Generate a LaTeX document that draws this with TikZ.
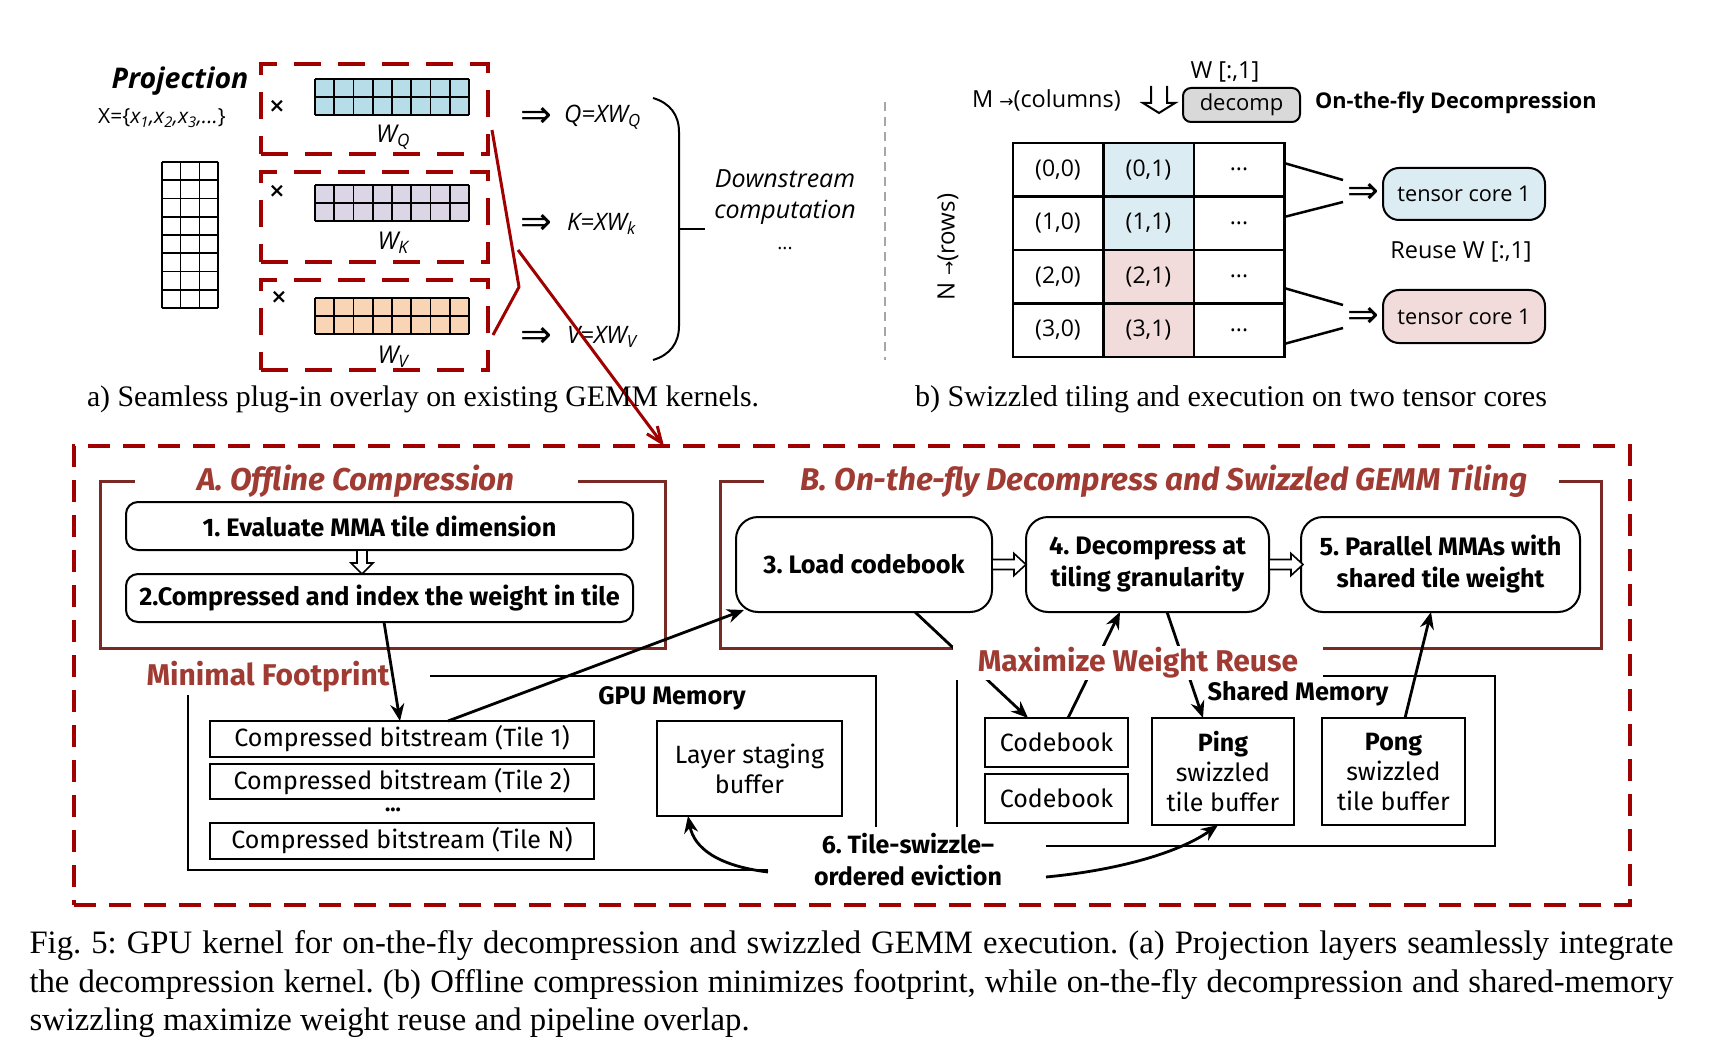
\documentclass[tikz,border=0pt]{standalone}
\usepackage{fontspec}
\setmainfont{Liberation Serif}
\newfontfamily\apt{Open Sans}
\newfontfamily\bah{Fira Sans}
\newfontfamily\dvs{DejaVu Sans}
\usetikzlibrary{arrows.meta}
\newcommand\myfs[2]{\fontsize{#1}{#2}\selectfont}
\definecolor{qblue}{HTML}{B7DEE8}
\definecolor{kpurp}{HTML}{DCD5E6}
\definecolor{vpeach}{HTML}{F9D5B6}
\definecolor{cblue}{HTML}{DBECF3}
\definecolor{cpink}{HTML}{F1DCDB}
\definecolor{dgray}{HTML}{D9D9D9}
\definecolor{dred}{HTML}{A00000}
\definecolor{fred}{HTML}{7A2A25}
\definecolor{tred}{HTML}{A03B33}
\tikzset{
  hright/.pic={\draw[line width=1.6pt, fill=white, line join=miter] (0,-5) -- (22,-5) -- (22,-11) -- (34,0) -- (22,11) -- (22,5) -- (0,5) -- cycle;},
  hdown/.pic={\draw[line width=1.6pt, fill=white, line join=miter] (-5,0) -- (-5,13) -- (-11,13) -- (0,24) -- (11,13) -- (5,13) -- (5,0) -- cycle;},
  ddown/.pic={\draw[line width=2pt, line join=miter] (-8,-13) -- (-8,4) -- (-16,4) -- (0,14) -- (16,4) -- (8,4) -- (8,-13);}
}
\begin{document}
\frenchspacing
\begin{tikzpicture}[x=1pt,y=-1pt,
  every node/.style={inner sep=0pt, outer sep=0pt},
  apt/.style={font=\apt\myfs{23.5}{28}},
  reddash/.style={draw=dred, line width=3.5pt, dash pattern=on 27pt off 17pt},
  bigdash/.style={draw=dred, line width=3.5pt, dash pattern=on 22pt off 13pt},
  frm/.style={draw=fred, line width=3pt},
  thinln/.style={line width=1.6pt},
  cell/.style={draw, line width=2.5pt, minimum width=90.5pt, minimum height=53.5pt, font=\apt\myfs{23}{26}},
  stepbx/.style={draw, line width=2pt, rounded corners=12pt, align=center, font=\bah\bfseries\myfs{25.3}{32}},
  stepbxb/.style={draw, line width=2pt, rounded corners=22pt, align=center, font=\bah\bfseries\myfs{25.3}{32}},
  membox/.style={draw, line width=2pt, align=center, font=\bah\myfs{25}{30}},
  arr/.style={line width=2.8pt, -{Stealth[length=17pt,width=14pt]}},
  ttl/.style={font=\bah\bfseries\itshape\myfs{31.5}{34}, text=tred},
  redlbl/.style={font=\bah\bfseries\myfs{30}{32}, text=tred},
  blbl/.style={font=\bah\bfseries\myfs{25.3}{28}},
  dbl/.style={font=\dvs\myfs{38}{38}}
]
\path[fill=white] (0,0) rectangle (1712,1040);
\useasboundingbox (0,0) rectangle (1712,1040);

% ---------------- (a) ----------------
\node[font=\apt\bfseries\itshape\myfs{28.5}{32}] (proj) at (180,81) {Projection};
\node[font=\apt\myfs{21}{24}] (xset) at (162,118) {X=\{\textit{x\textsubscript{1},x\textsubscript{2},x\textsubscript{3},...}\}};
\foreach \i in {0,...,3} \draw[thinln] ({162+\i*56/3},162) -- ({162+\i*56/3},308);
\foreach \j in {0,...,8} \draw[thinln] (162,{162+\j*146/8}) -- (218,{162+\j*146/8});

\node[reddash, minimum width=227pt, minimum height=90pt] (bq) at (374.5,109) {};
\node[reddash, minimum width=227pt, minimum height=90pt] (bk) at (374.5,217) {};
\node[reddash, minimum width=227pt, minimum height=90pt] (bv) at (374.5,325) {};

\foreach \yy/\cc in {79/qblue,185/kpurp,298/vpeach}{
  \fill[\cc] (315,\yy) rectangle (469,{\yy+36});
  \foreach \i in {0,...,8} \draw[thinln] ({315+\i*154/8},\yy) -- ({315+\i*154/8},{\yy+36});
  \foreach \j in {0,1,2} \draw[thinln] (315,{\yy+\j*18}) -- (469,{\yy+\j*18});
}
\node[font=\dvs\bfseries\myfs{20}{20}] (xq) at (277,106) {×};
\node[font=\dvs\bfseries\myfs{20}{20}] (xk) at (277,191) {×};
\node[font=\dvs\bfseries\myfs{20}{20}] (xv) at (279,297) {×};
\node[font=\apt\itshape\myfs{24.5}{28}] (wq) at (393,137) {W\textsubscript{Q}};
\node[font=\apt\itshape\myfs{24.5}{28}] (wk) at (393,243) {W\textsubscript{K}};
\node[font=\apt\itshape\myfs{24.5}{28}] (wv) at (393,357) {W\textsubscript{V}};

\node[dbl] (iq) at (536,117) {⇒};
\node[dbl] (ik) at (536,224) {⇒};
\node[dbl] (iv) at (536,337) {⇒};
\node[font=\apt\itshape\myfs{24}{28}, anchor=west] (fq) at (564,117) {Q=XW\textsubscript{Q}};
\node[font=\apt\itshape\myfs{24}{28}, anchor=west] (fk) at (567,224) {K=XW\textsubscript{k}};
\node[font=\apt\itshape\myfs{24}{28}, anchor=west] (fv) at (567,337) {V=XW\textsubscript{V}};

\draw[line width=2pt] (653,98) .. controls (670,103) and (679,115) .. (679,132) -- (679,326) .. controls (679,343) and (670,355) .. (653,360);
\draw[line width=2pt] (679,229) -- (705,229);
\node[font=\apt\itshape\myfs{25}{31}, align=center] (ds) at (785,197.5) {Downstream\\computation};
\node[font=\apt\myfs{19}{20}] (dsd) at (785,249) {...};

\draw[gray!70, line width=1.5pt, dash pattern=on 9pt off 6pt] (885,102) -- (885,360);

\coordinate (z1) at (492,130);
\coordinate (z2) at (519,287);
\coordinate (z3) at (493,335);
\coordinate (zs) at (518,250);
\coordinate (zt) at (664,446);
\draw[dred, line width=3pt, line join=round] (z1) -- (z2) -- (z3);
\draw[dred, line width=3pt, -{Straight Barb[length=16pt,width=13pt]}] (zs) -- (zt);

% ---------------- (b) ----------------
\node[apt, anchor=west] (mcol) at (972,100) {M {\dvs\myfs{17}{17}→}(columns)};
\coordinate (dd) at (1159,99);
\pic at (dd) {ddown};
\node[apt] (w1) at (1225,72) {W [:,1]};
\node[draw, line width=2pt, fill=dgray, rounded corners=8pt, minimum width=117pt, minimum height=34pt, font=\apt\myfs{22}{26}] (dec) at (1241.5,105) {decomp};
\node[font=\apt\bfseries\myfs{21.7}{26}, anchor=west] (otf) at (1315,103) {On-the-fly Decompression};

\foreach \r/\yy/\fc in {0/169.75/cblue,1/223.25/cblue,2/276.75/cpink,3/330.25/cpink}{
  \node[cell] (c\r0) at (1058,\yy) {(\r,0)};
  \node[cell, fill=\fc] (c\r1) at (1148.5,\yy) {(\r,1)};
  \node[cell] (c\r2) at (1239,\yy) {...};
}
\node[font=\apt\myfs{24}{28}, rotate=90] (nrow) at (948,247) {N {\dvs\myfs{17}{17}→}(rows)};

\coordinate (la1) at (1284,163); \coordinate (la2) at (1343,180);
\coordinate (lb1) at (1284,217); \coordinate (lb2) at (1343,202);
\coordinate (lc1) at (1284,288); \coordinate (lc2) at (1343,305);
\coordinate (ld1) at (1284,344); \coordinate (ld2) at (1343,328);
\draw[line width=2.5pt] (la1) -- (la2);
\draw[line width=2.5pt] (lb1) -- (lb2);
\draw[line width=2.5pt] (lc1) -- (lc2);
\draw[line width=2.5pt] (ld1) -- (ld2);
\node[dbl] (ia) at (1363,193) {⇒};
\node[dbl] (ib) at (1363,317) {⇒};
\node[draw, line width=2pt, rounded corners=16pt, fill=cblue, minimum width=162pt, minimum height=52pt, font=\apt\myfs{21.7}{26}] (tc1) at (1464,194) {tensor core 1};
\node[draw, line width=2pt, rounded corners=16pt, fill=cpink, minimum width=162pt, minimum height=53pt, font=\apt\myfs{21.7}{26}] (tc2) at (1464,316.5) {tensor core 1};
\node[apt] (reuse) at (1461,252) {Reuse W [:,1]};

% sub captions
\node[anchor=base west, font=\myfs{29.8}{34}] (capa) at (87,406) {a) Seamless plug-in overlay on existing GEMM kernels.};
\node[anchor=base west, font=\myfs{30.1}{34}] (capb) at (915,406) {b) Swizzled tiling and execution on two tensor cores};

% ---------------- bottom ----------------
\node[bigdash, minimum width=1556pt, minimum height=459pt] (big) at (852,675.5) {};

\draw[frm] (135,481) -- (100,481) -- (100,648) -- (665,648) -- (665,481) -- (578,481);
\node[ttl] (ta) at (356,481) {A. Offline Compression};
\node[stepbx, minimum width=507pt, minimum height=48pt] (b1) at (379.5,526) {1. Evaluate MMA tile dimension};
\node[stepbx, minimum width=507pt, minimum height=48pt] (b2) at (379.5,598) {2.Compressed and index the weight in tile};
\pic at ([xshift=-17.5pt]b1.south) {hdown};

\draw[frm] (953,648) -- (720,648) -- (720,481) -- (764,481);
\draw[frm] (1559,481) -- (1601,481) -- (1601,648) -- (1323,648);
\node[ttl] (tb) at (1164,481) {B. On-the-fly Decompress and Swizzled GEMM Tiling};
\node[stepbxb, minimum width=256pt, minimum height=95pt] (b3) at (864,564.5) {3. Load codebook};
\node[stepbxb, minimum width=243pt, minimum height=95pt] (b4) at (1147.5,564.5) {4. Decompress at\\tiling granularity};
\node[stepbxb, minimum width=279pt, minimum height=95pt] (b5) at (1440.5,564.5) {5. Parallel MMAs with\\shared tile weight};
\pic at (b3.east) {hright};
\pic at (b4.east) {hright};

% GPU memory
\draw[line width=2pt] (430,676) -- (876,676) -- (876,827);
\draw[line width=2pt] (768,870) -- (188,870) -- (188,695);
\node[redlbl] (mf) at (268,677) {Minimal Footprint};
\node[blbl] (gpum) at (672,698) {GPU Memory};
\node[membox, minimum width=384pt, minimum height=36pt] (t1) at (402,739) {Compressed bitstream (Tile 1)};
\node[membox, minimum width=384pt, minimum height=35pt] (t2) at (402,781.5) {Compressed bitstream (Tile 2)};
\node[font=\bah\bfseries\myfs{22}{22}] (tdots) at (393,810) {...};
\node[membox, minimum width=384pt, minimum height=36pt] (tn) at (402,841) {Compressed bitstream (Tile N)};
\node[membox, minimum width=185pt, minimum height=95pt] (lsb) at (749.5,768.5) {Layer staging\\buffer};

% Shared memory
\draw[line width=2pt] (1323,676) -- (1495,676) -- (1495,846) -- (1046,846);
\draw[line width=2pt] (957,679) -- (957,827);
\node[blbl] (shm) at (1298,694) {Shared Memory};
\node[membox, minimum width=143pt, minimum height=49pt] (cb1) at (1056.5,742.5) {Codebook};
\node[membox, minimum width=143pt, minimum height=49pt] (cb2) at (1056.5,798.5) {Codebook};
\node[membox, minimum width=142pt, minimum height=107pt] (ping) at (1223,771.5) {\textbf{Ping}\\swizzled\\tile buffer};
\node[membox, minimum width=143pt, minimum height=107pt] (pong) at (1393.5,771.5) {\textbf{Pong}\\swizzled\\tile buffer};

% arrows
\draw[arr] ([xshift=4.5pt]b2.south) -- ([xshift=-2pt]t1.north);
\draw[arr] ([xshift=46pt]t1.north) -- ([xshift=8pt,yshift=2pt]b3.south west);
\draw[arr] ([xshift=51pt]b3.south) -- ([xshift=-28.5pt]cb1.north);
\draw[arr] ([xshift=11.5pt]cb1.north) -- ([xshift=-27.5pt]b4.south);
\draw[arr] ([xshift=19.5pt]b4.south) -- ([xshift=-20pt]ping.north);
\draw[arr] ([xshift=11.5pt]pong.north) -- ([xshift=-9.5pt]b5.south);

\node[redlbl, fill=white, minimum width=370pt, minimum height=34pt] (mwr) at (1138,662.5) {Maximize Weight Reuse};

\node[font=\bah\bfseries\myfs{25}{32}, align=center] (evc) at (908,860) {6. Tile-swizzle–\\ordered eviction};
\coordinate (ev1) at (768,872);
\coordinate (ev2) at (1046,877);
\draw[arr] (ev1) .. controls (718,866) and (694,848) .. ([xshift=-61.5pt]lsb.south);
\draw[arr] (ev2) .. controls (1120,870) and (1180,852) .. ([xshift=-5pt]ping.south);

% main caption
\node[anchor=base west, font=\myfs{32.7}{38.5}] (cap1) at (29.5,953.5) {\makebox[1644pt][s]{Fig. 5: GPU kernel for on-the-fly decompression and swizzled GEMM execution. (a) Projection layers seamlessly integrate}};
\node[anchor=base west, font=\myfs{32.7}{38.5}] (cap2) at (29.5,992) {\makebox[1644pt][s]{the decompression kernel. (b) Offline compression minimizes footprint, while on-the-fly decompression and shared-memory}};
\node[anchor=base west, font=\myfs{32.7}{38.5}] (cap3) at (29.5,1030.5) {swizzling maximize weight reuse and pipeline overlap.};
\end{tikzpicture}
\end{document}
